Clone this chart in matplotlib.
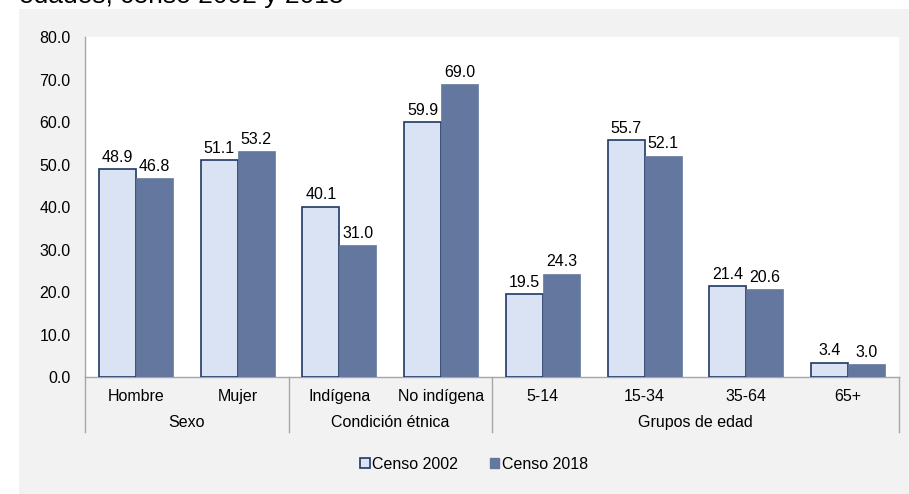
import matplotlib.pyplot as plt
from matplotlib.patches import Rectangle, Patch
import numpy as np

plt.rcParams['font.family'] = ['Liberation Sans', 'DejaVu Sans']

# Categories and groups
categorias = ['Hombre', 'Mujer', 'Indígena', 'No indígena', '5-14', '15-34', '35-64', '65+']
grupos = ['Sexo', 'Condición étnica', 'Grupos de edad']
grupo_rango = [(0, 1), (2, 3), (4, 7)]

# Percentages per census
censo_2002 = [48.9, 51.1, 40.1, 59.9, 19.5, 55.7, 21.4, 3.4]
censo_2018 = [46.8, 53.2, 31.0, 69.0, 24.3, 52.1, 20.6, 3.0]

y_ticks = [0, 10, 20, 30, 40, 50, 60, 70, 80]

c_claro = '#dae3f3'
c_borde = '#1f3864'
c_oscuro = '#64789f'
c_gris = '#a6a6a6'
fs = 11.5

fig = plt.figure(figsize=(9.09, 4.94), dpi=100)
fig.patches.append(Rectangle((19 / 909, 0), 1 - 19 / 909, 1 - 9 / 494,
                             transform=fig.transFigure, facecolor='#f2f2f2',
                             edgecolor='none', zorder=0))
fig.text(19 / 909, 1 - 3.5 / 494, 'edades, censo 2002 y 2018', fontsize=19,
         va='baseline', ha='left', color='#000000')

ax = fig.add_axes([85 / 909, 1 - 377 / 494, (899 - 85) / 909, (377 - 37) / 494])
ax.set_zorder(2)
ax.set_facecolor('white')

x = np.arange(len(categorias))
w = 0.364
ax.bar(x - w / 2, censo_2002, w, color=c_claro, edgecolor=c_borde, linewidth=1.2, zorder=3)
ax.bar(x + w / 2, censo_2018, w, color=c_oscuro, edgecolor=c_oscuro, linewidth=0.5, zorder=3)

for xi, v in zip(x - w / 2, censo_2002):
    ax.text(xi, v + 1.0, f'{v:.1f}', ha='center', va='bottom', fontsize=fs)
for xi, v in zip(x + w / 2, censo_2018):
    ax.text(xi, v + 1.0, f'{v:.1f}', ha='center', va='bottom', fontsize=fs)

ax.set_xlim(-0.5, len(categorias) - 0.5)
ax.set_ylim(0, 80)
ax.set_yticks(y_ticks)
ax.set_yticklabels([f'{t:.1f}' for t in y_ticks], fontsize=fs)
ax.tick_params(axis='y', length=0, pad=10.5)
ax.set_xticks(x)
ax.set_xticklabels(categorias, fontsize=fs)
ax.tick_params(axis='x', length=0, pad=8.5)

for s in ['top', 'right']:
    ax.spines[s].set_visible(False)
for s in ['left', 'bottom']:
    ax.spines[s].set_color(c_gris)
    ax.spines[s].set_linewidth(1)

# Group separators and group labels below the axis
trans = ax.get_xaxis_transform()
bordes = [-0.5, 1.5, 3.5, 7.5]
for b in bordes:
    ax.plot([b, b], [0, -55 / 340], transform=trans, color=c_gris, lw=1, clip_on=False)
for nombre, (a, z) in zip(grupos, grupo_rango):
    ax.text((a + z) / 2, -45 / 340, nombre, transform=trans, ha='center', va='center',
            fontsize=fs)

handles = [Patch(facecolor=c_claro, edgecolor=c_borde, linewidth=1.2, label='Censo 2002'),
           Patch(facecolor=c_oscuro, edgecolor=c_oscuro, label='Censo 2018')]
fig.legend(handles=handles, loc='center', bbox_to_anchor=(474 / 909, 1 - 464 / 494),
           ncol=2, frameon=False, fontsize=fs, handlelength=0.6, handleheight=0.6,
           handletextpad=0.15, columnspacing=2.0)

fig.savefig('out.png', dpi=100)
